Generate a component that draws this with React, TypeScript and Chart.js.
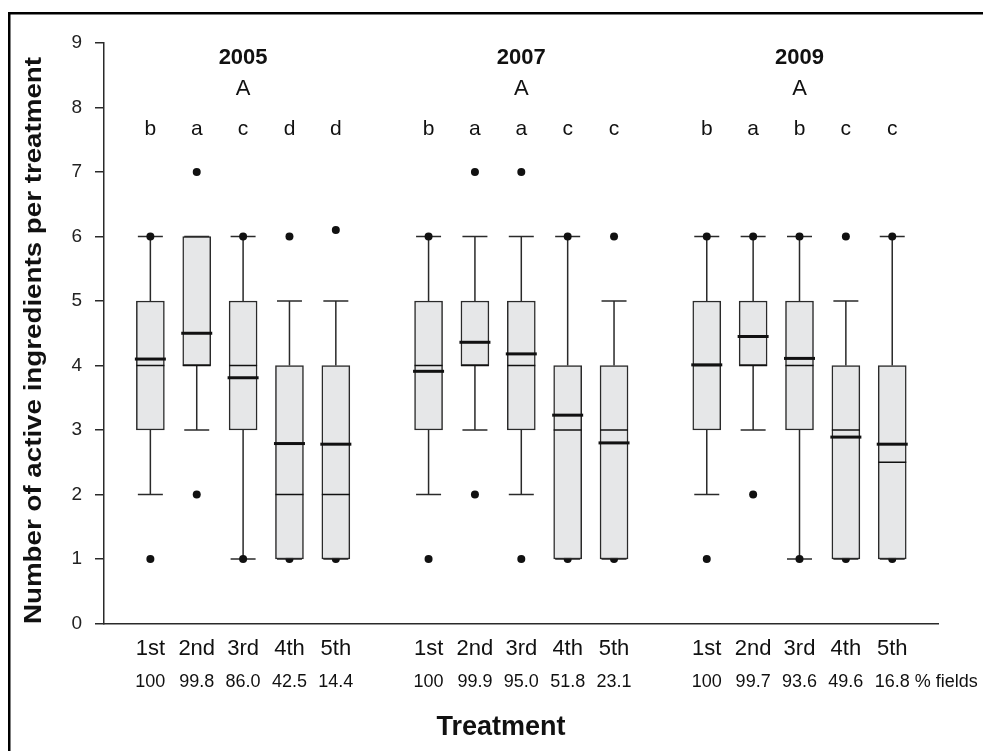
import React, { useEffect, useRef } from 'react';
import { Chart, registerables } from 'chart.js';

Chart.register(...registerables);

const FONT = '"Liberation Sans", Arial, Helvetica, sans-serif';

// ---- data ----
const years = ['2005', '2007', '2009'];
const yearLetters = ['A', 'A', 'A'];
const yearCenters = [3, 9, 15];
const positions = [1, 2, 3, 4, 5, 7, 8, 9, 10, 11, 13, 14, 15, 16, 17];
const treatments = ['1st', '2nd', '3rd', '4th', '5th', '1st', '2nd', '3rd', '4th', '5th', '1st', '2nd', '3rd', '4th', '5th'];
const pctFields = ['100', '99.8', '86.0', '42.5', '14.4', '100', '99.9', '95.0', '51.8', '23.1', '100', '99.7', '93.6', '49.6', '16.8'];
const pctSuffix = '% fields';
const groupLetters = ['b', 'a', 'c', 'd', 'd', 'b', 'a', 'a', 'c', 'c', 'b', 'a', 'b', 'c', 'c'];
const q1 = [3, 4, 3, 1, 1, 3, 4, 3, 1, 1, 3, 4, 3, 1, 1];
const q3 = [5, 6, 5, 4, 4, 5, 5, 5, 4, 4, 5, 5, 5, 4, 4];
const medians = [4, 4, 4, 2, 2, 4, 4, 4, 3, 3, 4, 4, 4, 3, 2.5];
const means = [4.1, 4.5, 3.81, 2.79, 2.78, 3.91, 4.36, 4.18, 3.23, 2.8, 4.01, 4.45, 4.11, 2.89, 2.78];
const whiskerLow = [2, 3, 1, 1, 1, 2, 3, 2, 1, 1, 2, 3, 1, 1, 1];
const whiskerHigh = [6, 6, 6, 5, 5, 6, 6, 6, 6, 5, 6, 6, 6, 5, 6];
const outliers = [
  [6, 1], [7, 2], [6, 1], [6, 1], [6.1, 1],
  [6, 1], [7, 2], [7, 1], [6, 1], [6, 1],
  [6, 1], [6, 2], [6, 1], [6, 1], [6, 1],
];
const yTitle = 'Number of active ingredients per treatment';
const xTitle = 'Treatment';

const BOX_PX = 28;
const CAP_PX = 25;

const boxPlugin = {
  id: 'boxExtras',
  beforeDraw(chart: any) {
    const ctx = chart.ctx;
    ctx.save();
    ctx.fillStyle = '#ffffff';
    ctx.fillRect(0, 0, chart.width, chart.height);
    ctx.strokeStyle = '#000000';
    ctx.lineWidth = 2.5;
    ctx.beginPath();
    ctx.moveTo(9.25, chart.height);
    ctx.lineTo(9.25, 13.25);
    ctx.lineTo(chart.width, 13.25);
    ctx.stroke();
    ctx.restore();
  },
  beforeDatasetsDraw(chart: any) {
    const ctx = chart.ctx;
    const xs = chart.scales.x;
    const ys = chart.scales.y;
    ctx.save();
    ctx.strokeStyle = '#2a2a2a';
    ctx.lineWidth = 1.5;
    positions.forEach((p, i) => {
      const x = xs.getPixelForValue(p);
      const yHi = ys.getPixelForValue(whiskerHigh[i]);
      const yLo = ys.getPixelForValue(whiskerLow[i]);
      ctx.beginPath();
      ctx.moveTo(x, ys.getPixelForValue(q3[i]));
      ctx.lineTo(x, yHi);
      ctx.moveTo(x, ys.getPixelForValue(q1[i]));
      ctx.lineTo(x, yLo);
      ctx.moveTo(x - CAP_PX / 2, yHi);
      ctx.lineTo(x + CAP_PX / 2, yHi);
      ctx.moveTo(x - CAP_PX / 2, yLo);
      ctx.lineTo(x + CAP_PX / 2, yLo);
      ctx.stroke();
    });
    ctx.restore();
  },
  afterDatasetsDraw(chart: any) {
    const ctx = chart.ctx;
    const xs = chart.scales.x;
    const ys = chart.scales.y;
    const area = chart.chartArea;
    ctx.save();
    // medians and means
    positions.forEach((p, i) => {
      const x = xs.getPixelForValue(p);
      ctx.strokeStyle = '#111111';
      ctx.lineWidth = 1.5;
      const ym = ys.getPixelForValue(medians[i]);
      ctx.beginPath();
      ctx.moveTo(x - BOX_PX / 2, ym);
      ctx.lineTo(x + BOX_PX / 2, ym);
      ctx.stroke();
      ctx.lineWidth = 3;
      const ya = ys.getPixelForValue(means[i]);
      ctx.beginPath();
      ctx.moveTo(x - BOX_PX / 2 - 1.5, ya);
      ctx.lineTo(x + BOX_PX / 2 + 1.5, ya);
      ctx.stroke();
    });
    // texts
    ctx.fillStyle = '#111111';
    ctx.textAlign = 'center';
    ctx.textBaseline = 'alphabetic';
    ctx.font = `bold 22px ${FONT}`;
    years.forEach((yr, g) => {
      ctx.fillText(yr, xs.getPixelForValue(yearCenters[g]), ys.getPixelForValue(8.674));
    });
    ctx.font = `22px ${FONT}`;
    yearLetters.forEach((l, g) => {
      ctx.fillText(l, xs.getPixelForValue(yearCenters[g]), ys.getPixelForValue(8.194));
    });
    ctx.font = `21px ${FONT}`;
    groupLetters.forEach((l, i) => {
      ctx.fillText(l, xs.getPixelForValue(positions[i]), ys.getPixelForValue(7.574));
    });
    // percent row
    ctx.font = `18px ${FONT}`;
    const rowY = area.bottom + 63.5;
    pctFields.forEach((t, i) => {
      ctx.fillText(t, xs.getPixelForValue(positions[i]), rowY);
    });
    const last = positions.length - 1;
    const lx = xs.getPixelForValue(positions[last]) + ctx.measureText(pctFields[last]).width / 2 + ctx.measureText(' ').width;
    ctx.textAlign = 'left';
    ctx.fillText(pctSuffix, lx, rowY);
    // x title
    ctx.textAlign = 'center';
    ctx.font = `bold 27px ${FONT}`;
    ctx.fillText(xTitle, xs.getPixelForValue(8.56), area.bottom + 111.5);
    // y title
    ctx.font = `bold 24px ${FONT}`;
    const w = ctx.measureText(yTitle).width;
    const target = 567;
    ctx.translate(34, 340.5);
    ctx.rotate(-Math.PI / 2);
    ctx.scale(target / w, 1);
    ctx.textBaseline = 'middle';
    ctx.fillText(yTitle, 0, 0);
    ctx.restore();
  },
};

export default function App() {
  const ref = useRef<HTMLCanvasElement>(null);
  useEffect(() => {
    Chart.defaults.font.family = FONT;
    const boxData = positions.map((p, i) => ({ x: p, y: [q1[i], q3[i]] }));
    const outlierData: { x: number; y: number }[] = [];
    outliers.forEach((vals, i) => vals.forEach((v) => outlierData.push({ x: positions[i], y: v })));
    const chart = new Chart(ref.current as HTMLCanvasElement, {
      type: 'bar',
      data: {
        datasets: [
          {
            type: 'bar',
            data: boxData as any,
            backgroundColor: '#e6e7e8',
            borderColor: '#2a2a2a',
            borderWidth: 1.5,
            borderSkipped: false,
            barThickness: BOX_PX,
            order: 1,
          } as any,
          {
            type: 'scatter',
            data: outlierData,
            backgroundColor: '#111111',
            borderColor: '#111111',
            pointRadius: 4,
            pointBorderWidth: 0,
            order: 2,
          } as any,
        ],
      },
      options: {
        responsive: false,
        animation: false,
        events: [],
        layout: { padding: { top: 43, right: 44.4, bottom: 0, left: 0 } },
        plugins: { legend: { display: false }, tooltip: { enabled: false }, title: { display: false } },
        scales: {
          x: {
            type: 'linear',
            min: 0,
            max: 18,
            offset: false,
            ticks: {
              stepSize: 1,
              autoSkip: false,
              maxRotation: 0,
              minRotation: 0,
              padding: 12,
              color: '#111111',
              font: { size: 22, family: FONT },
              callback: (v: any) => {
                const i = positions.indexOf(Number(v));
                return i >= 0 ? treatments[i] : '';
              },
            },
            grid: { drawOnChartArea: false, drawTicks: false, offset: false },
            border: { color: '#2a2a2a', width: 1.5 },
            afterFit: (s: any) => {
              s.height = 127.5;
            },
          },
          y: {
            type: 'linear',
            min: 0,
            max: 9,
            ticks: { stepSize: 1, padding: 13, color: '#222222', font: { size: 19, family: FONT } },
            grid: { drawOnChartArea: false, drawTicks: true, tickLength: 9, color: '#2a2a2a', lineWidth: 1.5 },
            border: { color: '#2a2a2a', width: 1.5 },
            afterFit: (s: any) => {
              s.width = 104;
            },
          },
        },
      } as any,
      plugins: [boxPlugin],
    });
    return () => chart.destroy();
  }, []);
  return (
    <div style={{ position: 'absolute', left: 0, top: 0, width: 983, height: 751, background: '#fff' }}>
      <canvas ref={ref} width={983} height={751} style={{ display: 'block', width: 983, height: 751 }} />
    </div>
  );
}
